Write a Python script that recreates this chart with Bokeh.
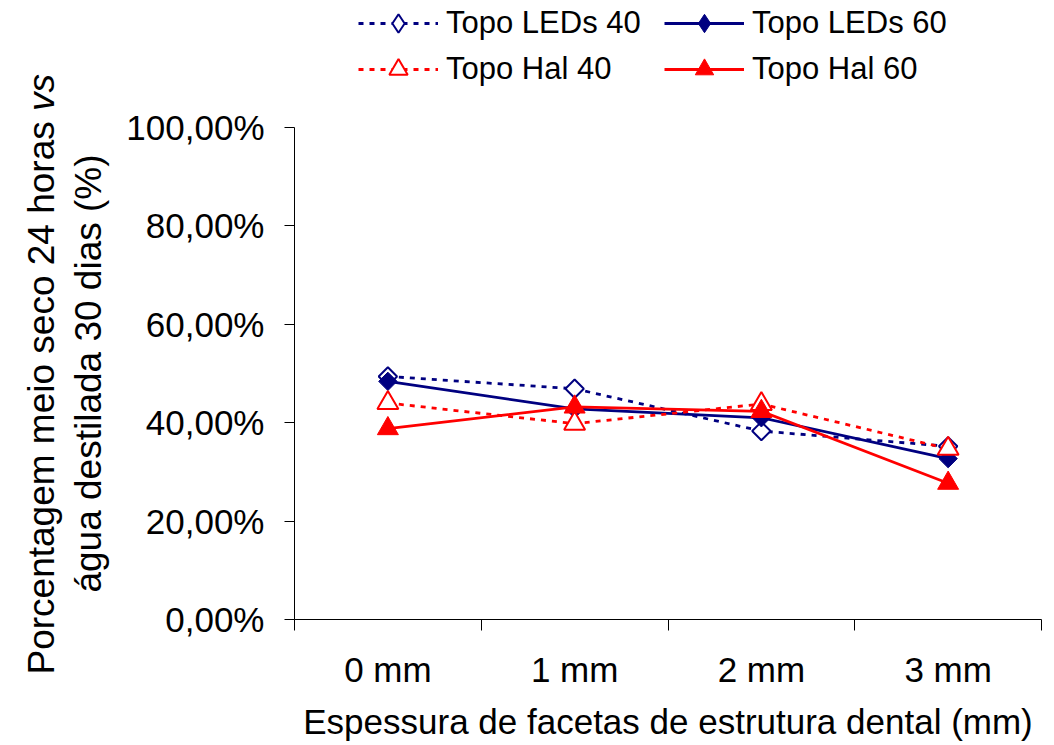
import math
from bokeh.plotting import figure
from bokeh.models import Range1d, FixedTicker, Legend, LegendItem
from bokeh.layouts import row, column
from bokeh.core.properties import value
from bokeh.embed import file_html
from bokeh.resources import INLINE

# ---- data ----
categories = ["0 mm", "1 mm", "2 mm", "3 mm"]
leds40 = [49.4, 46.9, 38.3, 35.2]
leds60 = [48.4, 42.8, 41.0, 32.7]
hal40 = [44.0, 39.8, 43.8, 34.7]
hal60 = [38.8, 43.2, 42.3, 27.7]
y_ticks = [0, 20, 40, 60, 80, 100]
y_tick_labels = ["0,00%", "20,00%", "40,00%", "60,00%", "80,00%", "100,00%"]
series_names = ["Topo LEDs 40", "Topo LEDs 60", "Topo Hal 40", "Topo Hal 60"]
x_title = "Espessura de facetas de estrutura dental (mm)"
y_title_1a = "Porcentagem meio seco 24 horas "
y_title_1b = "vs"
y_title_2 = "água destilada 30 dias (%)"

FONT = "Liberation Sans"
NAVY = "#000080"
RED = "#FF0000"
W, H = 1054, 745
TITLE_W = 110
LEG_H = 100
LW = 2.8
DASH = "5 6"

xs = [i + 0.5 for i in range(len(categories))]
series_values = [leds40, leds60, hal40, hal60]
styles = [
    dict(color=NAVY, dash=DASH, fill="white", mlw=2, tri=False),
    dict(color=NAVY, dash="solid", fill=NAVY, mlw=1, tri=False),
    dict(color=RED, dash=DASH, fill="white", mlw=2, tri=True),
    dict(color=RED, dash="solid", fill=RED, mlw=1, tri=True),
]


def bare(fig):
    fig.outline_line_color = None
    fig.xgrid.visible = False
    fig.ygrid.visible = False
    fig.background_fill_color = "white"
    fig.border_fill_color = "white"


# ---- strip holding the two-line y-axis title ----
tf = figure(width=TITLE_W, height=H, output_backend="svg", toolbar_location=None,
            x_range=Range1d(0, TITLE_W), y_range=Range1d(0, H),
            x_axis_type=None, y_axis_type=None,
            min_border_left=0, min_border_right=0, min_border_top=0,
            min_border_bottom=0)
bare(tf)
first_len = 15.229 * 37  # advance width of the first part of line 1
tf.text(x=[41], y=[H - 674], text=[y_title_1a], angle=math.pi / 2,
        text_align="left", text_baseline="alphabetic",
        text_font=value(FONT), text_font_size="37px", text_color="black")
tf.text(x=[41], y=[H - 674 + first_len], text=[y_title_1b], angle=math.pi / 2,
        text_align="left", text_baseline="alphabetic", text_font_style="italic",
        text_font=value(FONT), text_font_size="37px", text_color="black")
tf.text(x=[88], y=[H - 373], text=[y_title_2], angle=math.pi / 2,
        text_align="center", text_baseline="alphabetic",
        text_font=value(FONT), text_font_size="37px", text_color="black")

# ---- strip holding the legend (its ranges keep the series out of view) ----
lf = figure(width=W - TITLE_W, height=LEG_H, output_backend="svg",
            toolbar_location=None, x_range=Range1d(0, 1),
            y_range=Range1d(1000, 1001),
            x_axis_type=None, y_axis_type=None,
            min_border_left=0, min_border_right=0, min_border_top=0,
            min_border_bottom=0)
bare(lf)
leg_items = []
for name, vals, st in zip(series_names, series_values, styles):
    lr = lf.line(xs, vals, line_color=st["color"], line_width=LW,
                 line_dash=st["dash"])
    mr = lf.scatter(xs, vals, marker="triangle" if st["tri"] else "diamond",
                    fill_color=st["fill"], line_color=st["color"],
                    line_width=st["mlw"])
    leg_items.append(LegendItem(label=name, renderers=[lr, mr]))
# items are laid out column by column
legend = Legend(items=[leg_items[0], leg_items[2], leg_items[1], leg_items[3]],
                ncols=2, location=(64, 8), orientation="vertical")
legend.border_line_color = None
legend.background_fill_alpha = 0
legend.padding = 0
legend.margin = 0
legend.glyph_width = 80
legend.glyph_height = 46
legend.label_height = 46
legend.label_width = 218
legend.label_standoff = 8
legend.spacing = 0
legend.label_text_font = FONT
legend.label_text_font_size = "31px"
legend.label_text_color = "black"
lf.add_layout(legend, "center")

# ---- main chart ----
p = figure(width=W - TITLE_W, height=H - LEG_H, output_backend="svg",
           toolbar_location=None,
           x_range=Range1d(0, len(categories)), y_range=Range1d(0, 100),
           min_border_left=294 - TITLE_W, min_border_right=13,
           min_border_top=127 - LEG_H, min_border_bottom=126)
bare(p)

# x axis
xa = p.xaxis[0]
xa.ticker = FixedTicker(ticks=xs, minor_ticks=list(range(len(categories) + 1)))
xa.major_label_overrides = {x: c for x, c in zip(xs, categories)}
xa.major_tick_line_color = None
xa.major_tick_out = 0
xa.major_tick_in = 0
xa.minor_tick_out = 11
xa.minor_tick_in = 0
xa.minor_tick_line_color = "black"
xa.axis_line_color = "black"
xa.major_label_text_font = FONT
xa.major_label_text_font_size = "35px"
xa.major_label_text_color = "black"
xa.major_label_standoff = 19
xa.axis_label = x_title
xa.axis_label_text_font = FONT
xa.axis_label_text_font_size = "35px"
xa.axis_label_text_font_style = "normal"
xa.axis_label_text_color = "black"
xa.axis_label_standoff = 10

# y axis
ya = p.yaxis[0]
ya.ticker = FixedTicker(ticks=y_ticks, minor_ticks=[])
ya.major_label_overrides = {t: l for t, l in zip(y_ticks, y_tick_labels)}
ya.major_tick_out = 10
ya.major_tick_in = 0
ya.major_tick_line_color = "black"
ya.minor_tick_line_color = None
ya.axis_line_color = "black"
ya.major_label_text_font = FONT
ya.major_label_text_font_size = "35px"
ya.major_label_text_color = "black"
ya.major_label_standoff = 20

for vals, st in zip(series_values, styles):
    p.line(xs, vals, line_color=st["color"], line_width=LW, line_dash=st["dash"])
    if st["tri"]:
        p.scatter(xs, vals, marker="triangle", size=21, fill_color=st["fill"],
                  line_color=st["color"], line_width=st["mlw"])
    else:
        p.scatter(xs, vals, marker="square", size=13, angle=math.pi / 4,
                  fill_color=st["fill"], line_color=st["color"],
                  line_width=st["mlw"])

layout = row(tf, column(lf, p, spacing=0), spacing=0)
open("out.html", "w").write(file_html(layout, INLINE))
